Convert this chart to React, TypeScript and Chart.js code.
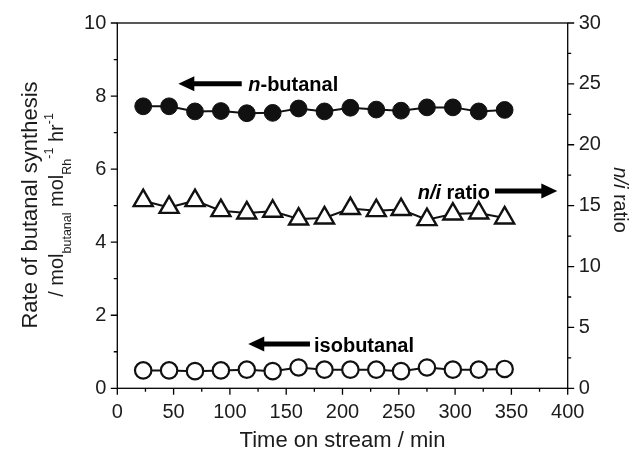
import React, { useEffect, useRef } from "react";
import { Chart, registerables } from "chart.js";
Chart.register(...registerables);

// ---- data ----
const timeMin = [23, 46, 69, 92, 115, 138, 161, 184, 207, 230, 252, 275, 298, 321, 344];
const nButanalRate = [7.72, 7.72, 7.58, 7.59, 7.53, 7.54, 7.66, 7.58, 7.68, 7.63, 7.6, 7.69, 7.69, 7.58, 7.62];
const isoButanalRate = [0.49, 0.49, 0.47, 0.49, 0.51, 0.47, 0.57, 0.51, 0.51, 0.51, 0.47, 0.57, 0.51, 0.51, 0.53];
const nIsoRatio = [15.41, 14.86, 15.41, 14.59, 14.4, 14.54, 13.9, 13.99, 14.76, 14.59, 14.68, 13.85, 14.31, 14.4, 13.99];

const xTickLabels = ["0", "50", "100", "150", "200", "250", "300", "350", "400"];
const yLeftTickLabels = ["0", "2", "4", "6", "8", "10"];
const yRightTickLabels = ["0", "5", "10", "15", "20", "25", "30"];

const FONT = "'Liberation Sans', Arial, Helvetica, sans-serif";
const INK = "#1c1c1c";

type Seg = { t: string; size: number; weight?: string; style?: string; dy?: number };

function segFont(s: Seg) {
  return `${s.style || "normal"} ${s.weight || "normal"} ${s.size}px ${FONT}`;
}

function drawRich(ctx: CanvasRenderingContext2D, segs: Seg[], x: number, y: number, align: "left" | "center" | "right", rot: number) {
  ctx.save();
  ctx.translate(x, y);
  ctx.rotate(rot);
  ctx.textBaseline = "alphabetic";
  ctx.textAlign = "left";
  let total = 0;
  const widths = segs.map((s) => {
    ctx.font = segFont(s);
    const w = ctx.measureText(s.t).width;
    total += w;
    return w;
  });
  let cx = align === "left" ? 0 : align === "center" ? -total / 2 : -total;
  segs.forEach((s, i) => {
    ctx.font = segFont(s);
    ctx.fillText(s.t, cx, s.dy || 0);
    cx += widths[i];
  });
  ctx.restore();
}

function arrow(ctx: CanvasRenderingContext2D, x1: number, x2: number, y: number) {
  // from x1 (tail) to x2 (tip)
  const dir = Math.sign(x2 - x1);
  const head = 16;
  ctx.save();
  ctx.strokeStyle = "#000";
  ctx.fillStyle = "#000";
  ctx.lineWidth = 5;
  ctx.beginPath();
  ctx.moveTo(x1, y);
  ctx.lineTo(x2 - dir * (head - 2), y);
  ctx.stroke();
  ctx.beginPath();
  ctx.moveTo(x2, y);
  ctx.lineTo(x2 - dir * head, y - 7.5);
  ctx.lineTo(x2 - dir * head, y + 7.5);
  ctx.closePath();
  ctx.fill();
  ctx.restore();
}

const framePlugin = {
  id: "frameTicks",
  beforeDatasetsDraw(chart: any) {
    const { ctx, chartArea: a, scales } = chart;
    ctx.save();
    ctx.strokeStyle = "#000";
    ctx.lineWidth = 1.3;
    ctx.strokeRect(a.left, a.top, a.right - a.left, a.bottom - a.top);
    ctx.beginPath();
    // x ticks (outward, down)
    for (let v = 0; v <= 400; v += 25) {
      const px = scales.x.getPixelForValue(v);
      const len = v % 50 === 0 ? 6.5 : 3.5;
      ctx.moveTo(px, a.bottom);
      ctx.lineTo(px, a.bottom + len);
    }
    // left y ticks
    for (let v = 0; v <= 10; v += 1) {
      const py = scales.y.getPixelForValue(v);
      const len = v % 2 === 0 ? 6.5 : 3.5;
      ctx.moveTo(a.left, py);
      ctx.lineTo(a.left - len, py);
    }
    // right y ticks
    for (let v = 0; v <= 30; v += 2.5) {
      const py = scales.y2.getPixelForValue(v);
      const len = v % 5 === 0 ? 6.5 : 3.5;
      ctx.moveTo(a.right, py);
      ctx.lineTo(a.right + len, py);
    }
    ctx.stroke();
    ctx.restore();
  },
  afterDraw(chart: any) {
    const { ctx, scales, chartArea: a } = chart;
    const X = (v: number) => scales.x.getPixelForValue(v);
    const Y = (v: number) => scales.y.getPixelForValue(v);
    ctx.save();
    ctx.fillStyle = INK;

    // axis titles
    drawRich(ctx, [{ t: "Time on stream / min", size: 22 }], (a.left + a.right) / 2, 447, "center", 0);
    drawRich(ctx, [{ t: "Rate of butanal synthesis", size: 22 }], 36.5, 205, "center", -Math.PI / 2);
    drawRich(
      ctx,
      [
        { t: "/ mol", size: 20 },
        { t: "butanal", size: 12.5, dy: 8 },
        { t: " mol", size: 20 },
        { t: "Rh", size: 12.5, dy: 8 },
        { t: "-1", size: 12.5, dy: -10 },
        { t: " hr", size: 20 },
        { t: "-1", size: 12.5, dy: -10 },
      ],
      63,
      205,
      "center",
      -Math.PI / 2
    );
    drawRich(
      ctx,
      [
        { t: "n/i", size: 20, style: "italic" },
        { t: " ratio", size: 20 },
      ],
      614,
      200,
      "center",
      Math.PI / 2
    );

    // annotations
    ctx.fillStyle = "#000";
    arrow(ctx, X(110.5), X(54.2), Y(8.34));
    drawRich(
      ctx,
      [
        { t: "n", size: 20, weight: "bold", style: "italic" },
        { t: "-butanal", size: 20, weight: "bold" },
      ],
      X(116.3),
      Y(8.34) + 7,
      "left",
      0
    );
    arrow(ctx, X(171.1), X(116.3), Y(1.21));
    drawRich(ctx, [{ t: "isobutanal", size: 20, weight: "bold" }], X(174.7), Y(1.21) + 8, "left", 0);
    arrow(ctx, X(335.4), X(390.8), Y(5.4));
    drawRich(
      ctx,
      [
        { t: "n/i", size: 20, weight: "bold", style: "italic" },
        { t: " ratio", size: 20, weight: "bold" },
      ],
      X(330.9),
      Y(5.4) + 8,
      "right",
      0
    );
    ctx.restore();
  },
};

export default function App() {
  const ref = useRef<HTMLCanvasElement | null>(null);
  useEffect(() => {
    if (!ref.current) return;
    const tickFont = { family: FONT, size: 20 };
    const chart = new Chart(ref.current, {
      type: "line",
      data: {
        datasets: [
          {
            label: "n-butanal",
            data: timeMin.map((t, i) => ({ x: t, y: nButanalRate[i] })),
            yAxisID: "y",
            borderColor: "#111",
            borderWidth: 2,
            pointStyle: "circle",
            pointRadius: 8.4,
            pointBackgroundColor: "#111",
            pointBorderColor: "#111",
            pointBorderWidth: 1,
            tension: 0,
          },
          {
            label: "isobutanal",
            data: timeMin.map((t, i) => ({ x: t, y: isoButanalRate[i] })),
            yAxisID: "y",
            borderColor: "#111",
            borderWidth: 2,
            pointStyle: "circle",
            pointRadius: 8.2,
            pointBackgroundColor: "#fff",
            pointBorderColor: "#111",
            pointBorderWidth: 2.2,
            tension: 0,
          },
          {
            label: "n/i ratio",
            data: timeMin.map((t, i) => ({ x: t, y: nIsoRatio[i] })),
            yAxisID: "y2",
            borderColor: "#111",
            borderWidth: 2,
            pointStyle: "triangle",
            pointRadius: 11,
            pointBackgroundColor: "#fff",
            pointBorderColor: "#111",
            pointBorderWidth: 2.4,
            tension: 0,
          },
        ],
      },
      options: {
        responsive: false,
        animation: false,
        events: [],
        layout: { padding: { top: 22.7, left: 0, right: 0, bottom: 0 } },
        plugins: { legend: { display: false }, tooltip: { enabled: false } },
        scales: {
          x: {
            type: "linear",
            min: 0,
            max: 400,
            grid: { display: false, drawTicks: false },
            border: { display: false },
            ticks: {
              stepSize: 50,
              padding: 12,
              color: INK,
              font: tickFont,
              maxRotation: 0,
              callback: (v: any) => {
                const i = Math.round(Number(v) / 50);
                return Number(v) % 50 === 0 ? xTickLabels[i] : "";
              },
            },
            afterFit: (s: any) => {
              s.height = 454 - 388.3;
            },
          },
          y: {
            type: "linear",
            position: "left",
            min: 0,
            max: 10,
            grid: { display: false, drawTicks: false },
            border: { display: false },
            ticks: {
              stepSize: 2,
              padding: 11,
              color: INK,
              font: tickFont,
              callback: (v: any) => {
                const i = Math.round(Number(v) / 2);
                return Number(v) % 2 === 0 ? yLeftTickLabels[i] : "";
              },
            },
            afterFit: (s: any) => {
              s.width = 117.3;
            },
          },
          y2: {
            type: "linear",
            position: "right",
            min: 0,
            max: 30,
            grid: { display: false, drawTicks: false },
            border: { display: false },
            ticks: {
              stepSize: 5,
              padding: 11,
              color: INK,
              font: tickFont,
              callback: (v: any) => {
                const i = Math.round(Number(v) / 5);
                return Number(v) % 5 === 0 ? yRightTickLabels[i] : "";
              },
            },
            afterFit: (s: any) => {
              s.width = 633 - 567.7;
            },
          },
        },
      },
      plugins: [framePlugin],
    } as any);
    return () => chart.destroy();
  }, []);
  return (
    <div style={{ position: "fixed", left: 0, top: 0, width: 633, height: 454, background: "#fff" }}>
      <canvas ref={ref} width={633} height={454} style={{ display: "block" }} />
    </div>
  );
}
